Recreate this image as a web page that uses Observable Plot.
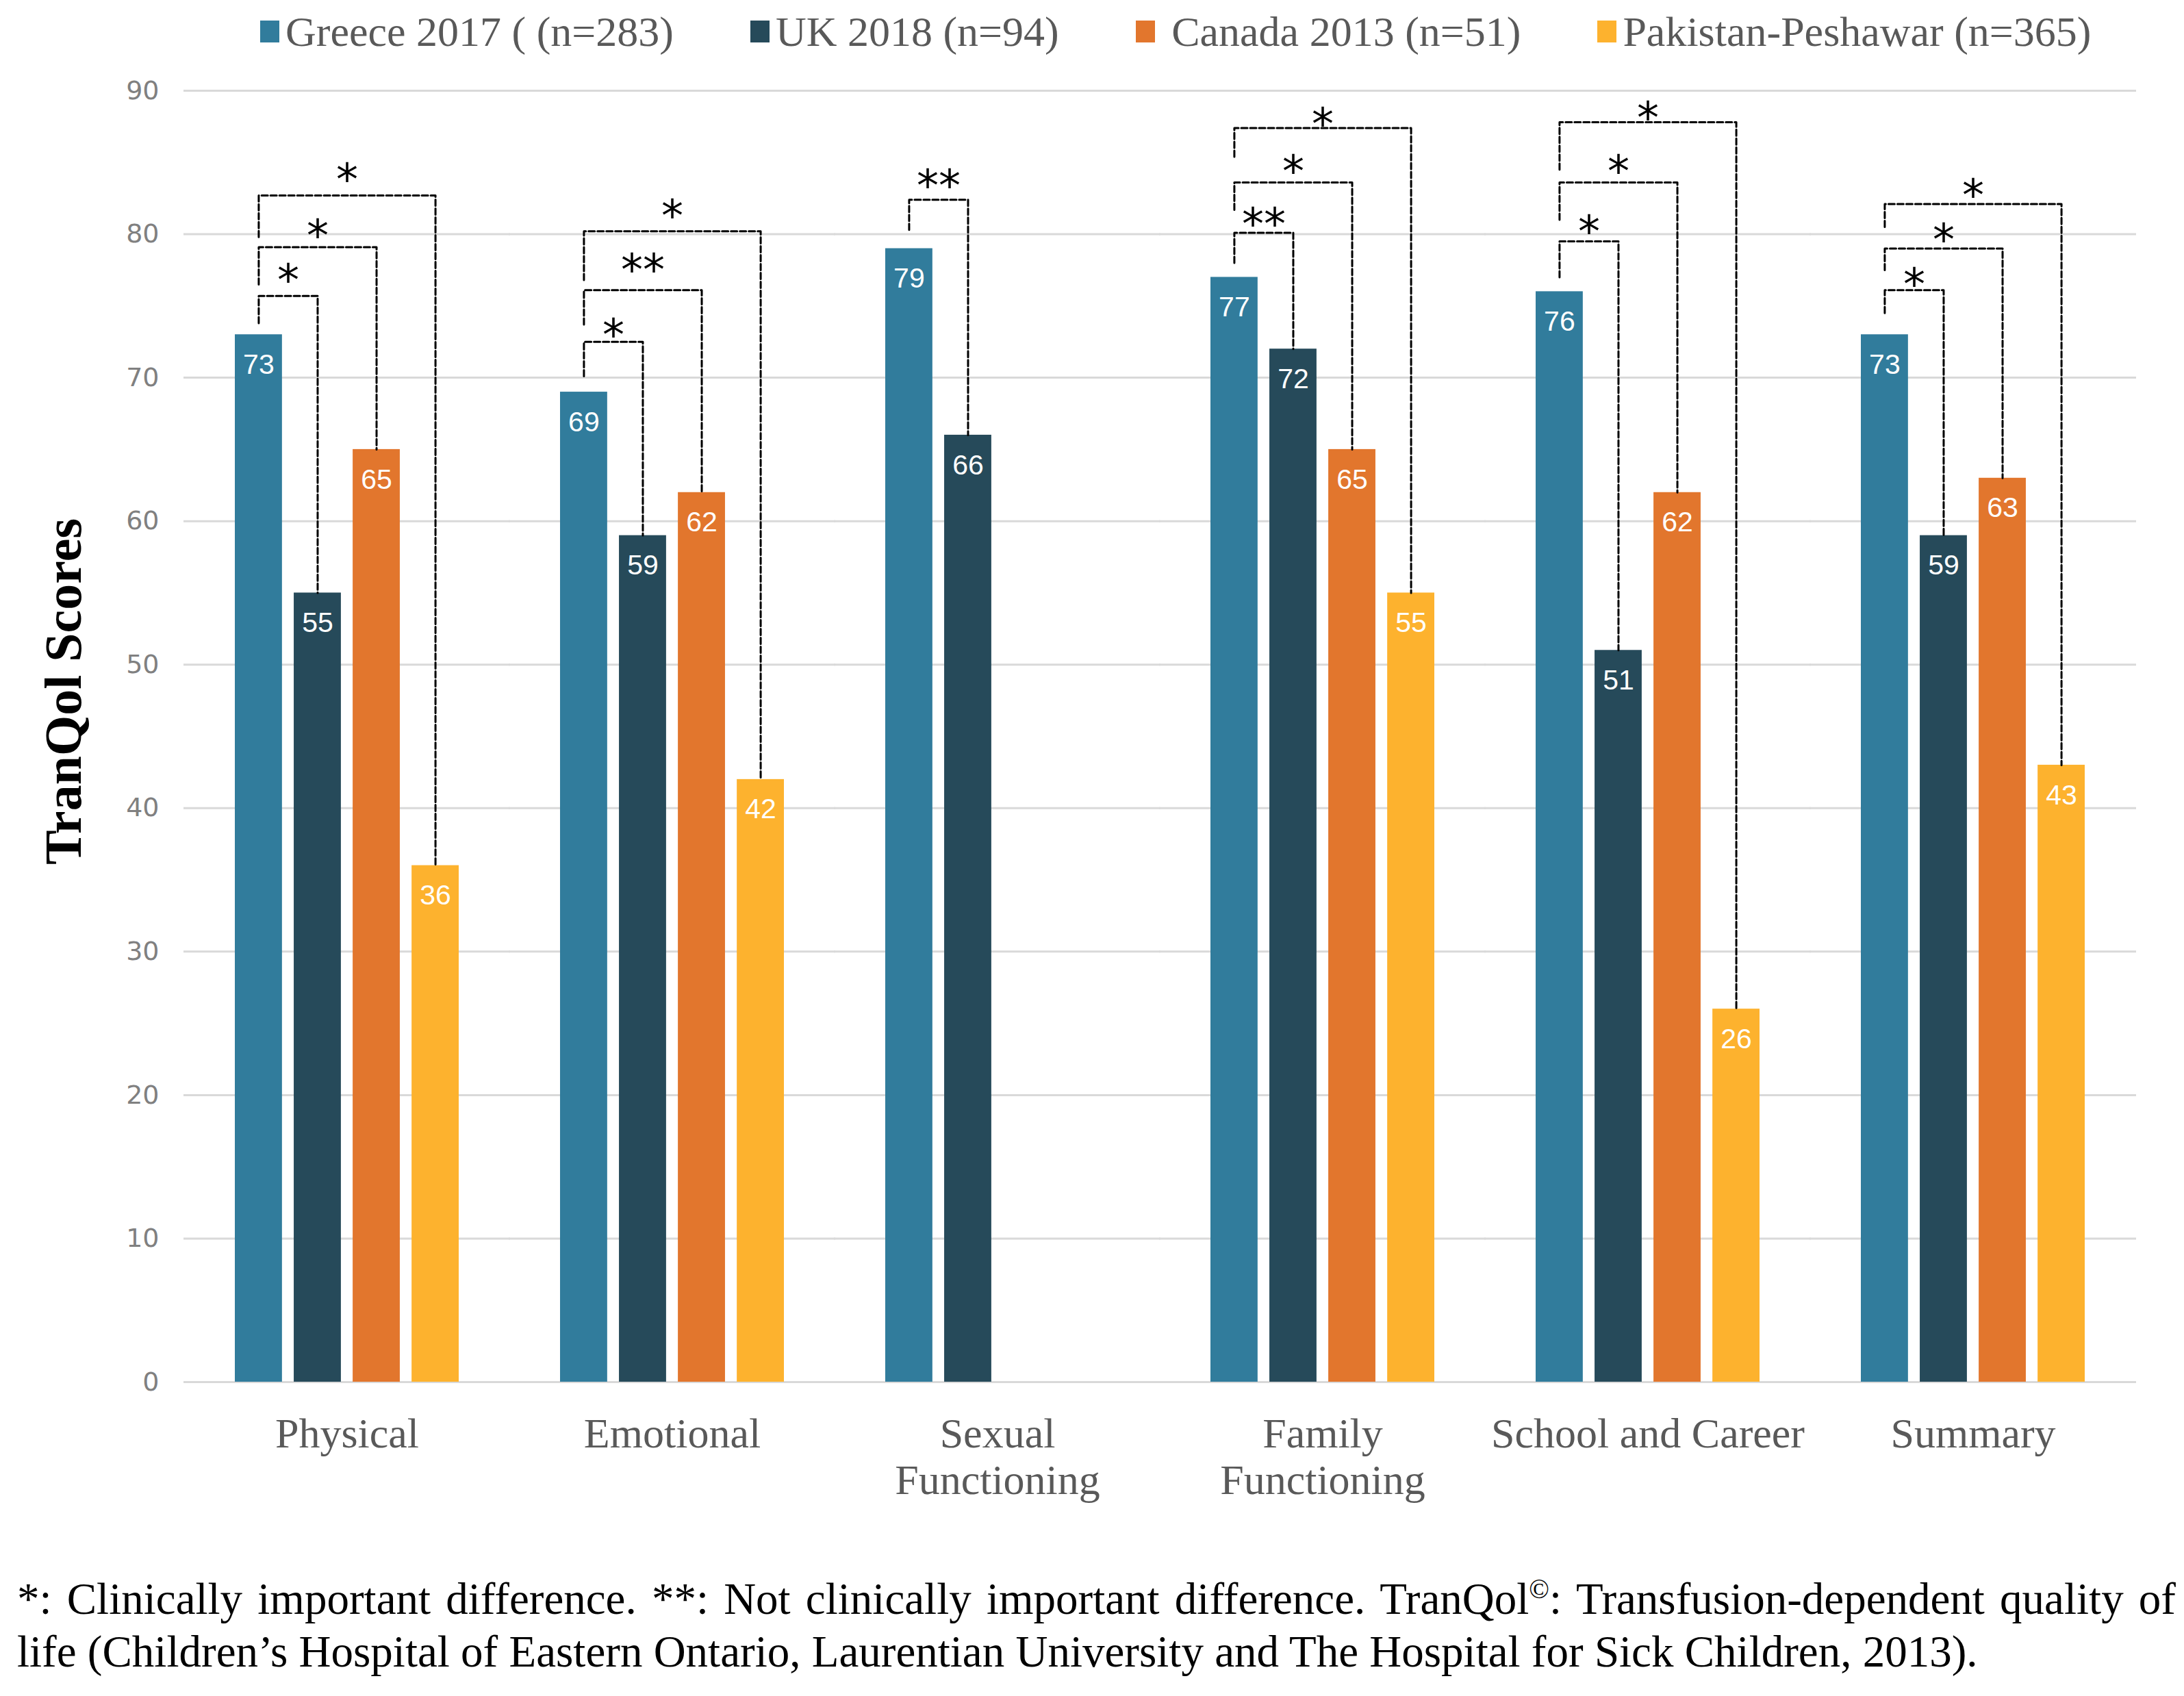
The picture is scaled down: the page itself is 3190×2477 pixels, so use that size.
<!DOCTYPE html>
<html><head><meta charset="utf-8">
<script src="https://cdn.jsdelivr.net/npm/d3@7"></script>
<script src="https://cdn.jsdelivr.net/npm/@observablehq/plot@0.6"></script>
<style>
html,body{margin:0;padding:0;background:#fff;}
body{width:3190px;height:2477px;position:relative;overflow:hidden;}
#legend{position:absolute;top:0;left:380px;height:92px;display:flex;align-items:center;gap:112px;font-family:"Liberation Serif";font-size:62px;color:#595959;white-space:pre;}
.item{display:flex;align-items:center;}
.sw{width:28px;height:32px;margin-right:9px;flex:none;}
#chart{position:absolute;top:90px;left:0;}
#ytitle{position:absolute;left:92px;top:1010px;transform:translate(-50%,-50%) rotate(-90deg);font-family:"Liberation Serif";font-weight:bold;font-size:76px;white-space:nowrap;color:#000;}
.cap{position:absolute;left:25px;width:3153px;font-family:"Liberation Serif";font-size:65px;line-height:77px;color:#000;white-space:normal;}
#cap1{top:2297px;text-align:justify;text-align-last:justify;white-space:nowrap;}
#cap2{top:2374px;}
sup{font-size:0.6em;line-height:0;vertical-align:super;}
</style></head>
<body>
<div id="legend"></div>
<div id="chart"></div>
<div id="ytitle">TranQol Scores</div>
<div class="cap" id="cap1">*: Clinically important difference. **: Not clinically important difference. TranQol<sup>©</sup>: Transfusion-dependent quality of</div>
<div class="cap" id="cap2">life (Children’s Hospital of Eastern Ontario, Laurentian University and The Hospital for Sick Children, 2013).</div>
<script>
const categories = ["Physical", "Emotional", "Sexual\nFunctioning", "Family\nFunctioning", "School and Career", "Summary"];
const series = ["Greece 2017 ( (n=283)", "UK 2018 (n=94)", " Canada 2013 (n=51)", "Pakistan-Peshawar (n=365)"];
const colors = ["#317C9C", "#264A5A", "#E2762D", "#FDB22E"];
const greece   = [73, 69, 79, 77, 76, 73];
const uk       = [55, 59, 66, 72, 51, 59];
const canada   = [65, 62, null, 65, 62, 63];
const pakistan = [36, 42, null, 55, 26, 43];
const yTicks = [0, 10, 20, 30, 40, 50, 60, 70, 80, 90];

// significance brackets (Greece vs. target series)
const bracketGroup    = [0, 0, 0, 1, 1, 1, 2, 3, 3, 3, 4, 4, 4, 5, 5, 5];
const bracketTarget   = [1, 2, 3, 1, 2, 3, 1, 1, 2, 3, 1, 2, 3, 1, 2, 3];
const bracketLegStart = [73.8, 76.5, 79.8, 70.1, 73.7, 76.8, 80.3, 78.0, 81.7, 85.4, 77.0, 81.0, 84.5, 74.5, 77.5, 80.5];
const bracketTop      = [75.7, 79.1, 82.7, 72.5, 76.1, 80.2, 82.4, 80.1, 83.6, 87.4, 79.5, 83.6, 87.8, 76.1, 79.0, 82.1];
const bracketLabel    = ["*", "*", "*", "*", "**", "*", "**", "**", "*", "*", "*", "*", "*", "*", "*", "*"];
const bracketLabelY   = [77.4, 80.5, 84.4, 73.6, 78.1, 81.9, 84.0, 81.3, 85.0, 88.3, 80.8, 85.0, 88.7, 77.1, 80.2, 83.3];

const seriesValues = [greece, uk, canada, pakistan];
const bars = [];
categories.forEach((c, ci) => seriesValues.forEach((vals, si) => {
  if (vals[ci] != null) bars.push({category: c, series: series[si], idx: si, value: vals[ci]});
}));
const brackets = bracketGroup.map((g, i) => ({
  id: i, category: categories[g], from: 0, to: bracketTarget[i],
  legStart: bracketLegStart[i], top: bracketTop[i], label: bracketLabel[i], labelY: bracketLabelY[i],
  targetValue: seriesValues[bracketTarget[i]][g]
}));
const bracketPts = brackets.flatMap(b => [
  {id: b.id, category: b.category, x: b.from, y: b.legStart},
  {id: b.id, category: b.category, x: b.from, y: b.top},
  {id: b.id, category: b.category, x: b.to, y: b.top},
  {id: b.id, category: b.category, x: b.to, y: b.targetValue}
]);
const gridCells = categories.flatMap(c => yTicks.map(t => ({category: c, y: t})));

// legend
const legend = document.getElementById("legend");
series.forEach((s, i) => {
  const it = document.createElement("div"); it.className = "item";
  const sw = document.createElement("div"); sw.className = "sw"; sw.style.background = colors[i];
  const t = document.createElement("span"); t.textContent = s;
  it.appendChild(sw); it.appendChild(t); legend.appendChild(it);
});

const chart = Plot.plot({
  width: 3190, height: 2140,
  marginLeft: 268, marginRight: 70, marginTop: 42, marginBottom: 212,
  style: {background: "transparent", overflow: "visible"},
  fx: {domain: categories, paddingInner: 0.312, paddingOuter: 0.156, label: null},
  x: {domain: [-0.4, 3.4], axis: null},
  y: {domain: [0, 90], label: null},
  color: {domain: series, range: colors},
  marks: [
    // gridlines: one rule per facet, stretched over the gaps between groups
    Plot.ruleY(gridCells, {fx: "category", y: "y", stroke: "#d9d9d9", strokeWidth: 3, insetLeft: -75, insetRight: -75}),
    Plot.rectY(bars, {fx: "category", x1: d => d.idx - 0.4, x2: d => d.idx + 0.4, y1: 0, y2: "value", fill: "series"}),
    Plot.text(bars, {fx: "category", x: "idx", y: "value", text: d => String(d.value), dy: 44, fill: "white", fontSize: 41, fontFamily: "Liberation Sans"}),
    Plot.line(bracketPts, {fx: "category", x: "x", y: "y", z: "id", stroke: "#000", strokeWidth: 3, strokeDasharray: "9,4"}),
    Plot.text(brackets, {fx: "category", x: d => (d.from + d.to) / 2, y: "labelY", text: "label", dy: 14, fontSize: 64, fontFamily: "DejaVu Sans", fill: "#000"}),
    Plot.axisY({ticks: yTicks, tickSize: 0, tickPadding: 111, fontSize: 38, fontFamily: "DejaVu Sans", fill: "#808080", label: null}),
    Plot.axisFx({anchor: "bottom", tickSize: 0, tickPadding: 47, fontSize: 62, fontFamily: "Liberation Serif", fill: "#595959", lineHeight: 1.1, label: null})
  ]
});
document.getElementById("chart").appendChild(chart);
</script>
</body></html>
